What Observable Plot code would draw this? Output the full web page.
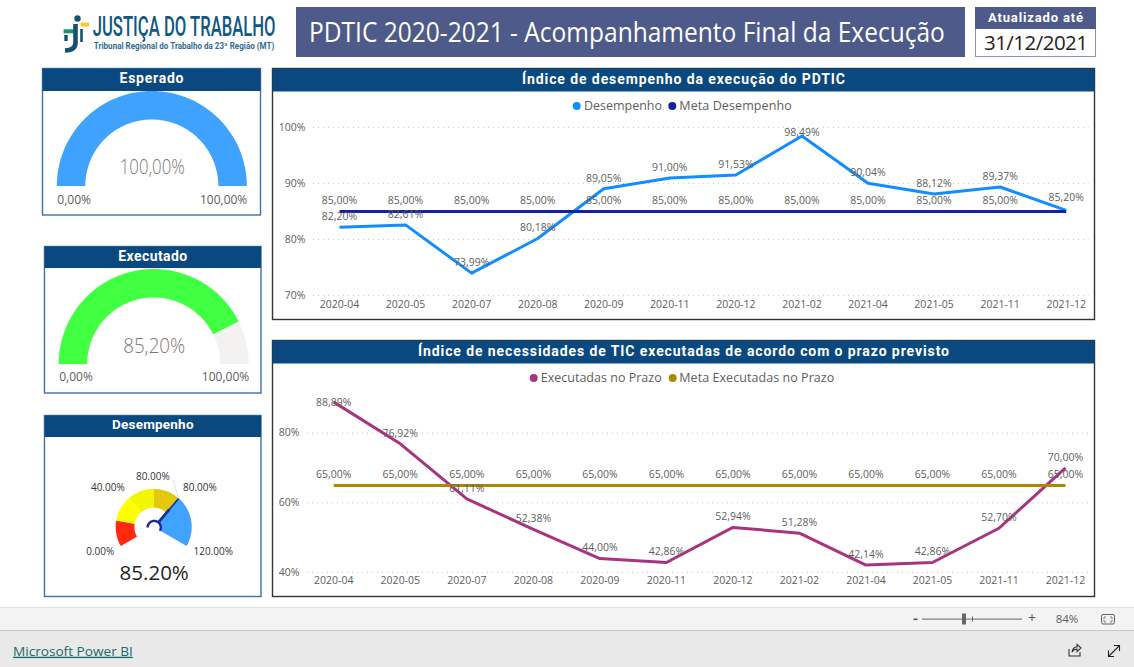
<!DOCTYPE html>
<html lang="pt-BR">
<head>
<meta charset="utf-8">
<title>PDTIC 2020-2021</title>
<script src="https://cdn.jsdelivr.net/npm/d3@7"></script>
<script src="https://cdn.jsdelivr.net/npm/@observablehq/plot@0.6"></script>
<style>
  html,body{margin:0;padding:0;background:#fff;overflow:hidden}
  #page{position:relative;width:1134px;height:667px;overflow:hidden}
  #page>svg,#page>div{position:absolute}
  #page svg{overflow:visible;background:transparent}
</style>
</head>
<body>
<div id="page"></div>
<script>
// ---- data ----
const months = ["2020-04","2020-05","2020-07","2020-08","2020-09","2020-11","2020-12","2021-02","2021-04","2021-05","2021-11","2021-12"];
const desempenho = [82.20,82.61,73.99,80.18,89.05,91.00,91.53,98.49,90.04,88.12,89.37,85.20];
const metaDesempenho = [85,85,85,85,85,85,85,85,85,85,85,85];
const executadas = [88.89,76.92,61.11,52.38,44.00,42.86,52.94,51.28,42.14,42.86,52.70,70.00];
const metaExecutadas = [65,65,65,65,65,65,65,65,65,65,65,65];
const esperadoValor = 100, executadoValor = 85.20, desempenhoValor = 85.20;
const faixas = [
  {de:0,  ate:20,  cor:"#FF2A0E"},
  {de:20, ate:40,  cor:"#FFFF00"},
  {de:40, ate:60,  cor:"#F2F700"},
  {de:60, ate:80,  cor:"#E3C80B"},
  {de:80, ate:120, cor:"#3FA3FF"}
];
const faixaRotulos = [
  {v:0,   t:"0.00%"},
  {v:40,  t:"40.00%"},
  {v:60,  t:"80.00%"},
  {v:80,  t:"80.00%"},
  {v:120, t:"120.00%"}
];
const metaPonteiro = 80;

// ---- chrome ----
const page = d3.select("#page");
const NAVY = "#0A4880", GREY = "#605E5C";
const SANS = "'Open Sans','Noto Sans',sans-serif", HEAD = "Roboto,'Noto Sans',sans-serif";
const ch = page.append("svg").attr("width",1134).attr("height",667).style("left","0").style("top","0");
function rect(x,y,w,h,fill,stroke,sw){return ch.append("rect").attr("x",x).attr("y",y).attr("width",w).attr("height",h).attr("fill",fill||"none").attr("stroke",stroke||"none").attr("stroke-width",sw||0);}
function txt(s,x,y,o={}){
  const t=ch.append("text").text(s).attr("x",x).attr("y",y).attr("dy","0.35em")
    .attr("font-family",o.font||SANS).attr("font-size",o.size||12).attr("font-weight",o.weight||400)
    .attr("fill",o.fill||GREY).attr("text-anchor",o.anchor||"start");
  if(o.len){
    if(o.adjust==="spacing"){t.attr("textLength",o.len).attr("lengthAdjust","spacing");}
    else{
      const k=o.len/t.node().getComputedTextLength();
      t.attr("x",0).attr("y",0).attr("transform",`translate(${x},${y}) scale(${k},1)`);
    }
  }
  if(o.underline)t.attr("text-decoration","underline");
  return t;
}
function panel(x,y,w,h,hh,title,titleLen,border,bw,tsize,ty){
  rect(x,y,w,h,"#fff",border,bw);
  rect(x,y,w,hh,NAVY);
  txt(title,x+w/2,ty,{font:HEAD,weight:700,size:tsize,fill:"#fff",anchor:"middle",len:titleLen,adjust:"spacing"});
}
// logo
ch.append("circle").attr("cx",77.5).attr("cy",18.5).attr("r",3.2).attr("fill","#17506f");
rect(80.7,22.6,8.3,4,"#F7C82B");
rect(63.6,29.3,10.5,4,"#15966B");
ch.append("path").attr("d","M75.5 24 L75.5 43 Q75.5 50 65 50.5").attr("fill","none").attr("stroke","#17506f").attr("stroke-width",4.6);
ch.append("path").attr("d","M66 35 L66 41").attr("fill","none").attr("stroke","#17506f").attr("stroke-width",3.4);
ch.append("path").attr("d","M81.5 29 L81.5 42").attr("fill","none").attr("stroke","#17506f").attr("stroke-width",2.6);
txt("JUSTIÇA DO TRABALHO",92.7,26.3,{font:HEAD,weight:500,size:28,fill:"#12577F",len:183});
txt("Tribunal Regional do Trabalho da 23ª Região (MT)",93.8,45.7,{font:HEAD,weight:700,size:8.5,fill:"#2E6D93",len:181});
// title
rect(296,7,669,50,"#4D5A8A");
txt("PDTIC 2020-2021 - Acompanhamento Final da Execução",309,32,{weight:400,size:27.5,fill:"#fff",len:636});
rect(975.5,7.5,120,49,"#fff","#8A93B8",1);
rect(975,7,121,22,"#4D5A8A");
txt("Atualizado até",1035.5,17.3,{font:HEAD,weight:700,size:13,fill:"#fff",anchor:"middle",len:95,adjust:"spacing"});
txt("31/12/2021",1036,43,{size:20.5,fill:"#252423",anchor:"middle",len:104,adjust:"spacing"});
// panels
panel(42.5,68.5,218,146.5,22.5,"Esperado",64,"#3E6FA5",1.4,14,78);
panel(44.5,246.5,216.5,146.5,21.5,"Executado",69,"#3E6FA5",1.4,14,255.7);
panel(44.5,415.5,216.5,181,21.5,"Desempenho",81.5,"#3E6FA5",1.4,13.5,424.3);
panel(272.5,68.5,822,251,23,"Índice de desempenho da execução do PDTIC",323,"#333",1.4,14,79);
panel(272.5,340.5,822,256,23,"Índice de necessidades de TIC executadas de acordo com o prazo previsto",531,"#333",1.4,14,350.7);
// legends
function legendItem(cx,cy,color,label,tx,len){
  ch.append("circle").attr("cx",cx).attr("cy",cy).attr("r",4).attr("fill",color);
  txt(label,tx,cy,{size:12.5,len:len,adjust:"spacing"});
}
const cDes="#118DFF", cMetaDes="#12239E", cExe="#A8337F", cMetaExe="#AD8800";
legendItem(576.7,106,cDes,"Desempenho",584,78);
legendItem(672.3,106,cMetaDes,"Meta Desempenho",679.3,112.4);
legendItem(533.7,378,cExe,"Executadas no Prazo",540.7,121);
legendItem(672.7,378,cMetaExe,"Meta Executadas no Prazo",679.3,155);
// footer
rect(0,607,1134,23,"#F3F3F3");
rect(0,607,1134,1,"#E1E1E1");
rect(0,630,1134,37,"#E9E9E9");
rect(0,630,1134,1,"#C8C8C8");
txt("Microsoft Power BI",13,651,{size:13.5,fill:"#1A6B6B",underline:true,len:120});
rect(913.5,618.5,4,1.6,"#555");
rect(922,618.6,100,1,"#666");
rect(962,613.5,4,11,"#666");
rect(972,616.5,1,5,"#666");
txt("+",1032,618.5,{size:14,anchor:"middle",fill:"#555"});
txt("84%",1067,619,{size:11.5,anchor:"middle"});
rect(1101.5,614.5,13,9.5,"none","#666",1).attr("rx",1.5);
ch.append("path").attr("d","M1104 619 L1104 617 L1106 617 M1110 617 L1112 617 L1112 619 M1112 620 L1112 622 L1110 622 M1106 622 L1104 622 L1104 620").attr("fill","none").attr("stroke","#666").attr("stroke-width",0.8);
ch.append("path").attr("d","M1069 649 L1069 656 L1080 656 L1080 652 M1072 652 Q1073 647 1077 647 L1077 644.5 L1081 648 L1077 651.5 L1077 649 Q1074 649 1072 652").attr("fill","none").attr("stroke","#333").attr("stroke-width",1.1);
ch.append("path").attr("d","M1109 656 L1119 646 M1114 645.5 L1119.5 645.5 L1119.5 651 M1108.5 650.5 L1108.5 656.5 L1114 656.5").attr("fill","none").attr("stroke","#222").attr("stroke-width",1.1);

// ---- line charts ----
const fmt = v => v.toFixed(2).replace(".",",")+"%";
function place(plot,left,top){
  plot.style.position="absolute";plot.style.left=left+"px";plot.style.top=top+"px";plot.style.background="transparent";
  document.getElementById("page").appendChild(plot);
}
function lineChart(o){
  const main = months.map((m,i)=>({m,v:o.main[i]}));
  // a target label that coincides with the series' own label is hidden by it, as in the source
  const meta = months.map((m,i)=>({m,v:o.meta[i],own:o.main[i]}));
  const common = {x:"m",y:"v",text:d=>fmt(d.v),fill:GREY,fontSize:10.5};
  const near = o.nearPoint;
  return Plot.plot({
    width:o.width,height:o.height,
    marginLeft:o.gridLeft,marginRight:o.gridRight,marginBottom:o.marginBottom,marginTop:0,
    style:{fontFamily:"'Open Sans','Noto Sans',sans-serif",fontSize:"10.5px",color:GREY,background:"transparent"},
    x:{type:"point",domain:months,range:o.xRange,padding:0,align:0.5,round:false,label:null},
    y:{domain:o.yDomain,range:o.yRange,label:null},
    marks:[
      Plot.ruleY(o.yTicks,{stroke:"#C8C6C4",strokeDasharray:"1 4",strokeWidth:1}),
      Plot.axisY({ticks:o.yTicks,tickSize:0,tickPadding:8,tickFormat:d=>d+"%",fill:GREY,fontSize:10.5,label:null}),
      Plot.axisX({tickSize:0,tickPadding:o.xPad,fill:GREY,fontSize:10.5,label:null}),
      Plot.line(main,{x:"m",y:"v",stroke:o.mainColor,strokeWidth:3,strokeLinecap:"butt"}),
      Plot.line(meta,{x:"m",y:"v",stroke:o.metaColor,strokeWidth:3,strokeLinecap:"butt"}),
      Plot.text(meta,{...common,filter:d=>Math.abs(d.own-d.v)>=0.5,dy:-11}),
      Plot.text(main,{...common,filter:d=>!(d.v in near),dy:-10.5}),
      ...Object.keys(near).map(k=>Plot.text(main,{...common,filter:d=>String(d.v)===k,dy:near[k]}))
    ]
  });
}
place(lineChart({
  main:desempenho,meta:metaDesempenho,mainColor:cDes,metaColor:cMetaDes,
  width:823,height:228,gridLeft:41,gridRight:6.5,marginBottom:25,xPad:5,
  xRange:[339-272,1065.7-272],yDomain:[70,100],yRange:[203,35],yTicks:[70,80,90,100],
  nearPoint:{98.49:-3.5,85.2:-13}
}),272,92);
place(lineChart({
  main:executadas,meta:metaExecutadas,mainColor:cExe,metaColor:cMetaExe,
  width:823,height:233,gridLeft:35,gridRight:6.5,marginBottom:24,xPad:4,
  xRange:[333.3-272,1065-272],yDomain:[40,80],yRange:[209,69.6],yTicks:[40,60,80],
  nearPoint:{88.89:1}
}),272,363);

// ---- gauges ----
function wedge(a0,a1,rIn){ // angles in degrees, clockwise from 12 o'clock; unit circle
  const n=Math.max(2,Math.ceil(Math.abs(a1-a0)/2)), pts=[];
  for(let i=0;i<=n;i++){
    const t=(a0+(a1-a0)*i/n)*Math.PI/180;
    pts.push({x1:Math.sin(t)*rIn,y1:Math.cos(t)*rIn,x2:Math.sin(t),y2:Math.cos(t)});
  }
  return pts;
}
function frame(w,h,cx,cy,r,marks){
  return Plot.plot({
    width:w,height:h,margin:0,axis:null,
    x:{domain:[-1,1],range:[cx-r,cx+r]},
    y:{domain:[-1,1],range:[cy+r,cy-r]},
    style:{fontFamily:"'Open Sans','Noto Sans',sans-serif",background:"transparent",overflow:"visible"},
    marks
  });
}
function semi(value,max,color,lblDy,valDy){
  const a=-90+180*value/max;
  const marks=[];
  if(value<max) marks.push(Plot.area(wedge(a,90,0.7),{x1:"x1",y1:"y1",x2:"x2",y2:"y2",fill:"#F3F2F1"}));
  marks.push(Plot.area(wedge(-90,a,0.7),{x1:"x1",y1:"y1",x2:"x2",y2:"y2",fill:color}));
  marks.push(Plot.text([fmt(value)],{x:0,y:0,text:d=>d,dy:valDy,fontSize:21,fontWeight:300,fill:"#7A7876"}));
  marks.push(Plot.text([fmt(0)],{x:-1,y:0,text:d=>d,dy:lblDy,textAnchor:"start",fontSize:12,fill:GREY}));
  marks.push(Plot.text([fmt(max)],{x:1,y:0,text:d=>d,dy:lblDy,textAnchor:"end",fontSize:12,fill:GREY}));
  return marks;
}
// the big centre reading comes first among the gauge's texts; it is narrower than the font's natural set
function squeeze(plot,label,len){
  const t=[...plot.querySelectorAll("text")].find(t=>t.textContent===label);
  if(t){t.setAttribute("textLength",len);t.setAttribute("lengthAdjust","spacingAndGlyphs");}
  return plot;
}
place(squeeze(frame(218,124,151.8-42,186-91,95,semi(esperadoValor,100,"#40A2FF",13.5,-19)),fmt(esperadoValor),65),42,91);
place(squeeze(frame(216,125,153.7-44,364-268,95,semi(executadoValor,100,"#41FF41",13,-18)),fmt(executadoValor),62),44,268);

// dial: 0..120 spans -120..+120 degrees
const ang = v => -120+v*2;
const R=38, hub=6.6/R;
const polar=(v,r)=>({x:Math.sin(ang(v)*Math.PI/180)*r,y:Math.cos(ang(v)*Math.PI/180)*r});
const dialMarks=[];
faixas.forEach(f=>dialMarks.push(Plot.area(wedge(ang(f.de),ang(f.ate),f.de>=metaPonteiro?hub:19.3/R),{x1:"x1",y1:"y1",x2:"x2",y2:"y2",fill:f.cor})));
// labels around the dial
const lblPos=[[-54,24.7],[-46.4,-39.7],[-1.4,-51],[45.6,-39.7],[59,24.7]];
faixaRotulos.forEach((l,i)=>{
  const p={x:lblPos[i][0]/R,y:-lblPos[i][1]/R};
  dialMarks.push(Plot.text([l.t],{x:p.x,y:p.y,text:d=>d,fontSize:10,fill:"#333"}));
});
// target leader, needle, hub
dialMarks.push(Plot.line([polar(metaPonteiro,1),{x:19/R,y:47/R}],{x:"x",y:"y",stroke:"#DDE0F3",strokeWidth:1}));
dialMarks.push(Plot.line([polar(metaPonteiro,hub),polar(metaPonteiro,0.62)],{x:"x",y:"y",stroke:"#1A2A9E",strokeWidth:2.8,strokeLinecap:"butt"}));
dialMarks.push(Plot.line([polar(metaPonteiro,0.62),polar(metaPonteiro,1)],{x:"x",y:"y",stroke:"#1A2A9E",strokeWidth:1.6,strokeLinecap:"butt"}));
dialMarks.push(Plot.line(d3.range(-90,125,5).map(a=>({x:Math.sin(a*Math.PI/180)*hub,y:Math.cos(a*Math.PI/180)*hub})),{x:"x",y:"y",stroke:"#1A2A9E",strokeWidth:2.4,strokeLinecap:"butt"}));
dialMarks.push(Plot.text([desempenhoValor.toFixed(2)+"%"],{x:0,y:0,text:d=>d,dy:46.3,fontSize:20.5,fill:"#252423"}));
place(frame(216,159,153.7-44,527-437,R,dialMarks),44,437);
</script>
</body>
</html>
